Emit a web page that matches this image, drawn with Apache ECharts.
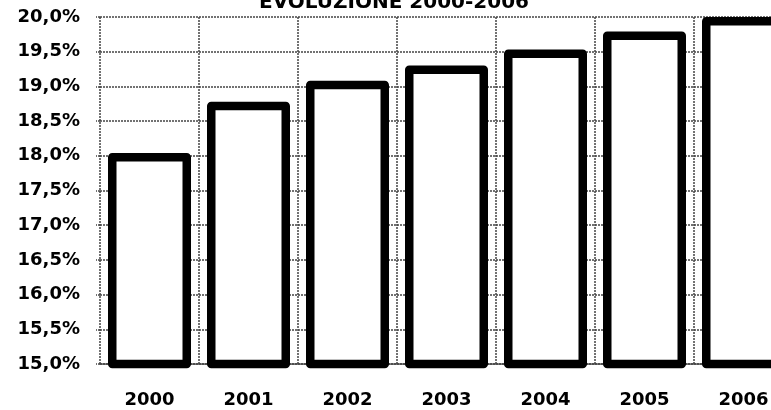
<!DOCTYPE html>
<html>
<head>
<meta charset="utf-8">
<script src="https://cdn.jsdelivr.net/npm/echarts@6/dist/echarts.min.js"></script>
<style>
  html, body { margin: 0; padding: 0; overflow: hidden; background: #fff; }
  #main { width: 820px; height: 410px; }
</style>
</head>
<body>
<div id="main"></div>
<script>
// dati
const anni = ['2000', '2001', '2002', '2003', '2004', '2005', '2006'];
const valori = [18.04, 18.78, 19.08, 19.3, 19.53, 19.79, 20.0];
const asseMin = 15, asseMax = 20, passo = 0.5;

const font = 'DejaVu Sans';
const gridLine = { color: '#444', width: 1.5, type: [2, 1] };

var myChart = echarts.init(document.getElementById('main'));
var option = {
    animation: false,
    title: {
        text: 'EVOLUZIONE 2000-2006',
        left: 254,
        top: -12,
        textStyle: { fontFamily: font, fontWeight: 'bold', fontSize: 20, color: '#000' }
    },
    grid: { left: 100, right: 27, top: 17, bottom: 46 },
    xAxis: {
        type: 'category',
        data: anni,
        boundaryGap: true,
        axisLine: { show: true, lineStyle: gridLine },
        axisTick: { show: false },
        splitLine: { show: true, lineStyle: gridLine },
        axisLabel: { margin: 27, fontFamily: font, fontWeight: 'bold', fontSize: 18, color: '#000' }
    },
    yAxis: {
        type: 'value',
        min: asseMin,
        max: asseMax,
        interval: passo,
        axisLine: { show: false },
        axisTick: { show: true, length: 4, lineStyle: gridLine },
        splitLine: { show: true, lineStyle: gridLine },
        axisLabel: {
            margin: 20,
            fontFamily: font,
            fontWeight: 'bold',
            fontSize: 18,
            color: '#000',
            formatter: function(v) { return v.toFixed(1).replace('.', ',') + '%'; }
        }
    },
    series: [{
        type: 'bar',
        data: valori,
        barWidth: 83,
        itemStyle: { color: '#fff', borderColor: '#000', borderWidth: 8.5, borderRadius: 0, borderJoin: 'round' }
    }]
};
myChart.setOption(option);
</script>
</body>
</html>
